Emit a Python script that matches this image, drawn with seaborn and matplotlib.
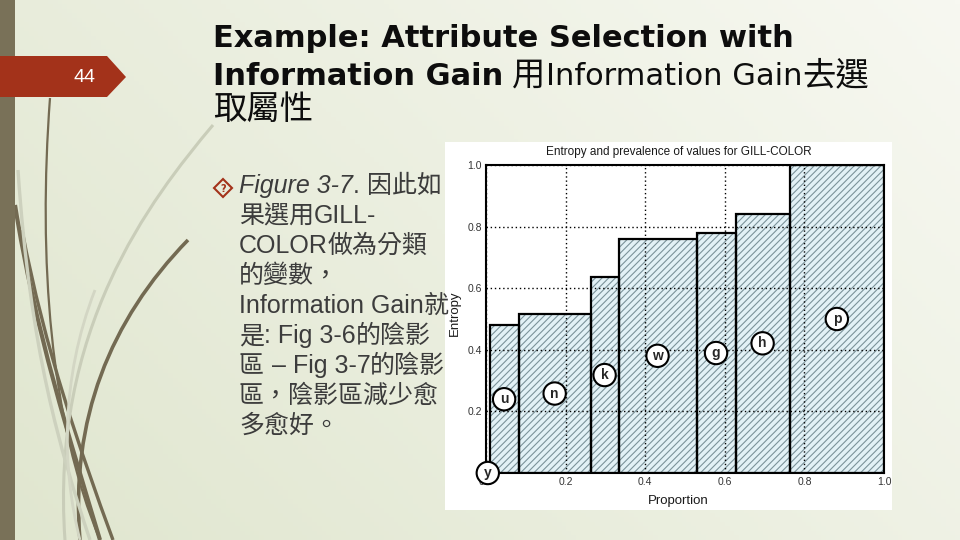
import numpy as np
import pandas as pd
import matplotlib.pyplot as plt
import seaborn as sns
from matplotlib.path import Path
from matplotlib.patches import PathPatch, Polygon, Rectangle

W, H = 960, 540

# chart values
gill_colors = ['y', 'u', 'n', 'k', 'w', 'g', 'h', 'p']
proportion = [0.009, 0.073, 0.181, 0.070, 0.196, 0.098, 0.136, 0.237]
entropy = [0.0, 0.479, 0.516, 0.636, 0.761, 0.779, 0.842, 1.0]
x_ticks = [0.0, 0.2, 0.4, 0.6, 0.8, 1.0]
y_ticks = [0.2, 0.4, 0.6, 0.8, 1.0]

chart_title = 'Entropy and prevalence of values for GILL-COLOR'
x_label = 'Proportion'
y_label = 'Entropy'
page_number = '44'

title_line1 = 'Example: Attribute Selection with'
title_line2_bold = 'Information Gain '
title_line2_rest = '用Information Gain去選'
title_line3 = '取屬性'

bullet_italic = 'Figure 3-7'
bullet_lines = ['. 因此如', '果選用GILL-', 'COLOR做為分類', '的變數，',
                'Information Gain就', '是: Fig 3-6的陰影', '區 – Fig 3-7的陰影',
                '區，陰影區減少愈', '多愈好。']

NARROW = ['DejaVu Sans Condensed', 'Liberation Sans Narrow', 'Liberation Sans']
CJK = ['Noto Sans CJK TC', 'DejaVu Sans']

sns.set_theme(style='white')
plt.rcParams['hatch.linewidth'] = 0.8

fig = plt.figure(figsize=(W / 100, H / 100), dpi=100)

# slide background, drawn in pixel coordinates (y down)
bg = fig.add_axes([0, 0, 1, 1], zorder=-10)
bg.set_xlim(0, W)
bg.set_ylim(H, 0)
bg.axis('off')
gx, gy = np.meshgrid(np.linspace(0, 1, 200), np.linspace(0, 1, 120))
t = np.clip(0.65 * gx + 0.35 * (1 - gy), 0, 1)[..., None]
c_dark = np.array([224, 230, 207]) / 255
c_light = np.array([247, 248, 241]) / 255
bg.imshow(c_dark + t * (c_light - c_dark), extent=[0, W, H, 0], aspect='auto', zorder=0)

# decorative curves
curves = [
    ([(50, 98), (38, 260), (50, 420), (100, 540)], '#736a52', 1.6),
    ([(15, 205), (35, 330), (70, 440), (100, 540)], '#736a52', 3.0),
    ([(22, 230), (45, 350), (80, 450), (113, 540)], '#736a52', 2.4),
    ([(188, 240), (110, 320), (70, 420), (80, 540)], '#736a52', 2.6),
    ([(213, 125), (150, 200), (50, 330), (65, 540)], '#c9cdb9', 2.2),
    ([(18, 170), (30, 350), (60, 450), (90, 540)], '#cdd1be', 2.4),
    ([(95, 290), (60, 380), (62, 470), (80, 540)], '#d3d6c4', 2.0),
]
for pts, col, lw in curves:
    path = Path(pts, [Path.MOVETO, Path.CURVE4, Path.CURVE4, Path.CURVE4])
    bg.add_patch(PathPatch(path, fc='none', ec=col, lw=lw, zorder=1))

bg.add_patch(Rectangle((0, 0), 15, H, fc='#797158', ec='none', zorder=2))
bg.add_patch(Polygon([(0, 56), (107, 56), (126, 77), (107, 97), (0, 97)],
                     closed=True, fc='#a3321a', ec='none', zorder=3))
bg.text(84, 77, page_number, color='white', fontsize=14, family='Liberation Sans',
        ha='center', va='center', zorder=4)

# white picture box behind the chart
bg.add_patch(Rectangle((445, 142), 447, 368, fc='white', ec='none', zorder=2))

renderer = fig.canvas.get_renderer()


def split_script(text):
    chunks = []
    for ch in text:
        cjk = ord(ch) >= 0x2E80
        if chunks and chunks[-1][1] == cjk:
            chunks[-1][0] += ch
        else:
            chunks.append([ch, cjk])
    return chunks


def draw_runs(x, y, runs, color):
    """Draw text runs one after another along a baseline (pixel coords)."""
    for text, latin, cjk_size in runs:
        for chunk, cjk in split_script(text):
            if cjk:
                props = dict(family=CJK, fontsize=cjk_size)
            else:
                props = dict(latin)
            size_px = props['fontsize'] / 0.72
            lead = len(chunk) - len(chunk.lstrip(' '))
            trail = len(chunk) - len(chunk.rstrip(' '))
            body = chunk.strip(' ')
            x += lead * 0.3 * size_px
            if body:
                txt = bg.text(x, y, body, color=color, ha='left', va='baseline',
                              zorder=5, **props)
                x += txt.get_window_extent(renderer).width
            x += trail * 0.3 * size_px
    return x


title_bold = dict(family=['DejaVu Sans'], fontsize=22, fontweight='bold')
title_reg = dict(family=['DejaVu Sans'], fontsize=22)
draw_runs(213, 47, [(title_line1, title_bold, 24)], '#0d0d0d')
draw_runs(213, 85, [(title_line2_bold, title_bold, 24),
                    (title_line2_rest, title_reg, 24)], '#0d0d0d')
draw_runs(213, 119, [(title_line3, title_reg, 24)], '#0d0d0d')

body_reg = dict(family=['Liberation Sans'], fontsize=18)
body_it = dict(family=['Liberation Sans'], fontsize=18, fontstyle='italic')
for i, line in enumerate(bullet_lines):
    runs = [(line, body_reg, 18)]
    if i == 0:
        runs = [(bullet_italic, body_it, 18)] + runs
    draw_runs(239, 193 + 30 * i, runs, '#3c3c3c')

# bullet glyph
bg.plot([223], [188], marker='D', ms=9, mfc='none', mec='#a3321a', mew=1.5, zorder=5)
bg.text(223, 188.5, '?', color='#a3321a', fontsize=7, fontweight='bold',
        family='DejaVu Sans', ha='center', va='center', zorder=6)

# ---- the chart ----
df = pd.DataFrame({'value': gill_colors, 'proportion': proportion, 'entropy': entropy})
df['right'] = df['proportion'].cumsum()
df['mid'] = df['right'] - df['proportion'] / 2
edges = [0.0] + df['right'].tolist()

ax = fig.add_axes([486 / W, 1 - 473 / H, (884 - 486) / W, (473 - 165) / H])
sns.histplot(data=df, x='mid', weights='entropy', bins=edges, ax=ax,
             color='#e2f1f6', edgecolor='#7b939a', linewidth=0, alpha=1)
for bar in ax.patches:
    bar.set_hatch('/////')
sns.histplot(data=df, x='mid', weights='entropy', bins=edges, ax=ax,
             fill=False, color='black', linewidth=1.6)

for _, row in df.iterrows():
    ax.text(row['mid'], row['entropy'] / 2, row['value'], ha='center', va='center',
            fontsize=10, fontweight='bold', family=NARROW, zorder=6, clip_on=False,
            bbox=dict(boxstyle='circle,pad=0.3', fc='white', ec='black', lw=1.5))

ax.set_xlim(0, 1)
ax.set_ylim(0, 1)
ax.set_xticks(x_ticks)
ax.set_yticks(y_ticks)
ax.set_xticklabels([f'{v:.1f}' for v in x_ticks], family=NARROW, fontsize=7.5, color='#333333')
ax.set_yticklabels([f'{v:.1f}' for v in y_ticks], family=NARROW, fontsize=7.5, color='#333333')
ax.tick_params(length=0, pad=3)
ax.set_axisbelow(False)
ax.grid(True, color='black', linestyle=(0, (1, 2)), linewidth=1.0)
ax.set_facecolor('white')
for side in ax.spines.values():
    side.set_visible(True)
    side.set_color('black')
    side.set_linewidth(1.5)
ax.set_xlabel('')
ax.set_ylabel('')

fig.text(679 / W, 1 - 152 / H, chart_title, family=NARROW, fontsize=8.5,
         ha='center', va='center', color='#1a1a1a')
fig.text(678 / W, 1 - 501 / H, x_label, family=NARROW, fontsize=9.5,
         ha='center', va='center', color='#1a1a1a')
fig.text(455 / W, 1 - 313 / H, y_label, family=NARROW, fontsize=9.5, rotation=90,
         ha='center', va='center', color='#1a1a1a')

fig.savefig('out.png', dpi=100)
